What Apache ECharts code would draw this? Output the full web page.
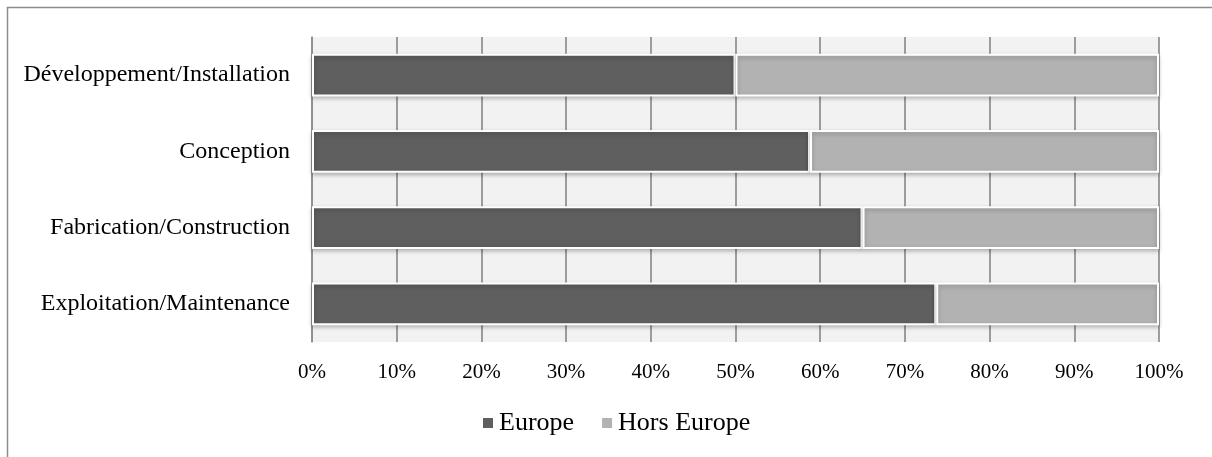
<!DOCTYPE html>
<html>
<head>
<meta charset="utf-8">
<script src="https://cdn.jsdelivr.net/npm/echarts@6/dist/echarts.min.js"></script>
<style>
  html, body { margin: 0; padding: 0; background: #fff; }
  #chart { width: 1212px; height: 457px; }
</style>
</head>
<body>
<div id="chart"></div>
<script>
var categories = ['Exploitation/Maintenance', 'Fabrication/Construction', 'Conception', 'Développement/Installation'];
var europe = [73.7, 65, 58.8, 50];
var horsEurope = [26.3, 35, 41.2, 50];
var tickLabels = ['0%', '10%', '20%', '30%', '40%', '50%', '60%', '70%', '80%', '90%', '100%'];

var myChart = echarts.init(document.getElementById('chart'));
var font = '"Liberation Serif", "Times New Roman", serif';
var barStyle = {
    borderColor: '#ffffff',
    borderWidth: 2,
    shadowColor: 'rgba(0,0,0,0.25)',
    shadowBlur: 4,
    shadowOffsetY: 2
};
option = {
    animation: false,
    backgroundColor: '#ffffff',
    textStyle: { fontFamily: font, color: '#000' },
    graphic: [{
        type: 'rect',
        shape: { x: 7.5, y: 7.5, width: 1230, height: 470 },
        style: { fill: 'none', stroke: '#8c8c8c', lineWidth: 1.5 },
        silent: true
    }],
    grid: {
        left: 312,
        right: 53,
        top: 37,
        bottom: 115,
        show: true,
        backgroundColor: '#f2f2f2',
        borderWidth: 0
    },
    legend: {
        bottom: 16,
        left: 476,
        itemWidth: 12,
        itemHeight: 12,
        itemGap: 26,
        icon: 'rect',
        textStyle: { fontFamily: font, fontSize: 26, color: '#000', padding: [0, 0, 0, 0] },
        data: ['Europe', 'Hors Europe']
    },
    xAxis: {
        type: 'value',
        min: 0,
        max: 100,
        interval: 10,
        axisLine: { show: false },
        axisTick: { show: false },
        axisLabel: {
            fontFamily: font,
            fontSize: 21,
            color: '#000',
            margin: 20,
            formatter: function (v) { return tickLabels[Math.round(v / 10)]; }
        },
        splitLine: { lineStyle: { color: '#7f7f7f', width: 1.5 } }
    },
    yAxis: {
        type: 'category',
        data: categories,
        axisLine: { lineStyle: { color: '#8c8c8c', width: 1.5 } },
        axisTick: { show: false },
        axisLabel: { fontFamily: font, fontSize: 24, color: '#000', margin: 22 }
    },
    series: [{
        name: 'Europe',
        type: 'bar',
        stack: 'total',
        barCategoryGap: '44%',
        data: europe,
        itemStyle: Object.assign({ color: '#5f5f5f' }, barStyle)
    }, {
        name: 'Hors Europe',
        type: 'bar',
        stack: 'total',
        data: horsEurope,
        itemStyle: Object.assign({ color: '#b2b2b2' }, barStyle)
    }]
};
myChart.setOption(option);
</script>
</body>
</html>
